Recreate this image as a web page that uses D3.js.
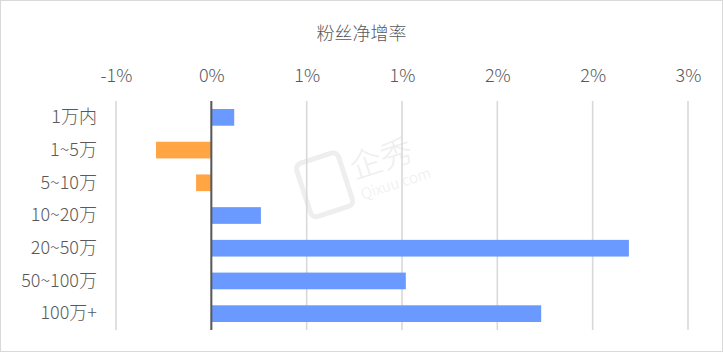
<!DOCTYPE html>
<html>
<head>
<meta charset="utf-8">
<script src="https://cdn.jsdelivr.net/npm/d3@7"></script>
<style>
  body { margin: 0; background: #fff; }
  svg { display: block; font-family: "Noto Sans CJK SC", "Noto Sans", sans-serif; font-weight: 300; }
</style>
</head>
<body>
<div id="chart"></div>
<script>
// data
const categories = ['1万内', '1~5万', '5~10万', '10~20万', '20~50万', '50~100万', '100万+'];
const growthRate = [0.12, -0.29, -0.08, 0.26, 2.19, 1.02, 1.73]; // percent
const tickValues = [-0.5, 0, 0.5, 1.0, 1.5, 2.0, 2.5];
const tickLabels = ['-1%', '0%', '1%', '1%', '2%', '2%', '3%'];
const chartTitle = '粉丝净增率';

const W = 723, H = 352;
const textColor = '#595959';

const svg = d3.select('#chart')
  .append('svg')
  .attr('width', W)
  .attr('height', H);

// background + border
svg.append('rect')
  .attr('x', 0.5).attr('y', 0.5)
  .attr('width', W - 1).attr('height', H - 1)
  .style('fill', '#fff')
  .style('stroke', '#d9d9d9');

// scales
const xScale = d3.scaleLinear()
  .domain([-0.5, 2.5])
  .range([116, 688]);

const yScale = d3.scaleBand()
  .domain(categories)
  .range([101, 330])
  .padding(0);

const barH = yScale.bandwidth() * 0.51;

// watermark (faint)
const wm = svg.append('g')
  .attr('transform', 'translate(372,182) rotate(-18)')
  .style('fill', '#eeeeee');
wm.append('rect')
  .attr('x', -68).attr('y', -40)
  .attr('width', 44).attr('height', 56)
  .attr('rx', 6)
  .style('fill', 'none')
  .style('stroke', '#eeeeee')
  .style('stroke-width', 5);
wm.append('text')
  .attr('x', -16).attr('y', -8)
  .style('font-size', '32px')
  .text('企秀');
wm.append('text')
  .attr('x', -14).attr('y', 14)
  .style('font-size', '15px')
  .text('Qixuu.com');

// gridlines
svg.append('g')
  .selectAll('line')
  .data(tickValues)
  .enter()
  .append('line')
  .attr('x1', d => xScale(d))
  .attr('x2', d => xScale(d))
  .attr('y1', 101)
  .attr('y2', 330)
  .style('stroke', '#d9d9d9')
  .style('stroke-width', 1.6);

// top axis labels
const xAxis = svg.append('g')
  .attr('transform', 'translate(0,101)')
  .call(d3.axisTop(xScale)
    .tickValues(tickValues)
    .tickFormat((d, i) => tickLabels[i])
    .tickSize(0)
    .tickPadding(19));

xAxis.select('.domain').remove();
xAxis.selectAll('text')
  .style('fill', textColor)
  .style('font-size', '18px')
  .style('font-weight', 300)
  .style('font-family', '"Noto Sans CJK SC", sans-serif');

// category labels
const yAxis = svg.append('g')
  .attr('transform', 'translate(116,0)')
  .call(d3.axisLeft(yScale).tickSize(0).tickPadding(19));

yAxis.select('.domain').remove();
yAxis.selectAll('text')
  .style('fill', textColor)
  .style('font-size', '18px')
  .style('font-weight', 300)
  .style('font-family', '"Noto Sans CJK SC", sans-serif');

// bars
svg.append('g')
  .selectAll('rect')
  .data(categories)
  .enter()
  .append('rect')
  .attr('x', (d, i) => Math.min(xScale(0), xScale(growthRate[i])))
  .attr('y', d => yScale(d) + (yScale.bandwidth() - barH) / 2)
  .attr('width', (d, i) => Math.abs(xScale(growthRate[i]) - xScale(0)))
  .attr('height', barH)
  .style('fill', (d, i) => growthRate[i] < 0 ? '#ffa543' : '#6a99ff');

// zero line
svg.append('line')
  .attr('x1', xScale(0))
  .attr('x2', xScale(0))
  .attr('y1', 101)
  .attr('y2', 330)
  .style('stroke', textColor)
  .style('stroke-width', 2);

// title
svg.append('text')
  .attr('x', 361.5)
  .attr('y', 40)
  .style('text-anchor', 'middle')
  .style('fill', textColor)
  .style('font-size', '18px')
  .style('font-weight', 300)
  .text(chartTitle);
</script>
</body>
</html>
